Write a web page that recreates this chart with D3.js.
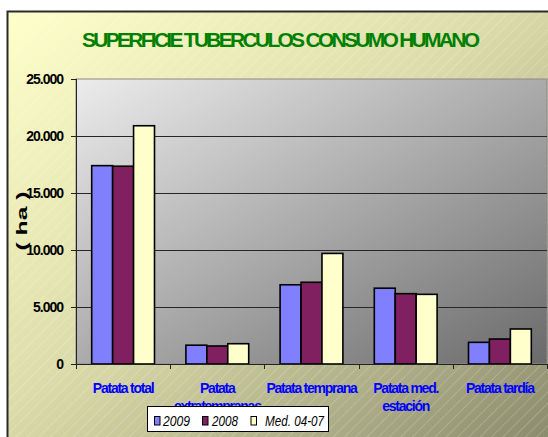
<!DOCTYPE html>
<html><head><meta charset="utf-8">
<script src="https://cdn.jsdelivr.net/npm/d3@7/dist/d3.min.js"></script>
<style>body{margin:0;background:#fff}svg{display:block}</style>
</head><body>
<script>
const categories = ["Patata total", "Patata extratempranas", "Patata temprana", "Patata med. estación", "Patata tardía"];
const seriesNames = ["2009", "2008", "Med. 04-07"];
const values2009 = [17400, 1650, 6950, 6650, 1900];
const values2008 = [17350, 1580, 7170, 6170, 2190];
const valuesMed = [20900, 1780, 9700, 6110, 3070];
const yTicks = [0, 5000, 10000, 15000, 20000, 25000];
const colors = ["#8080ff", "#802060", "#ffffcc"];
const title = "SUPERFICIE TUBERCULOS CONSUMO HUMANO";
const yTitle = "( ha )";

const W = 548, H = 437;
const svg = d3.select("body").append("svg").attr("width", W).attr("height", H);
const defs = svg.append("defs");

const g1 = defs.append("linearGradient").attr("id","bgGrad").attr("x1",0).attr("y1",0).attr("x2",1).attr("y2",1);
g1.append("stop").attr("offset","0%").attr("stop-color","#ffffca");
g1.append("stop").attr("offset","45%").attr("stop-color","#dcdcaa");
g1.append("stop").attr("offset","100%").attr("stop-color","#86866a");
const g2 = defs.append("linearGradient").attr("id","plotGrad").attr("x1",0).attr("y1",0).attr("x2",1).attr("y2",1);
g2.append("stop").attr("offset","0%").attr("stop-color","#ececec");
g2.append("stop").attr("offset","100%").attr("stop-color","#6a6a6a");
const pat = defs.append("pattern").attr("id","hatch").attr("width",8).attr("height",8)
  .attr("patternUnits","userSpaceOnUse").attr("patternTransform","rotate(45)");
pat.append("line").attr("x1",0).attr("y1",0).attr("x2",0).attr("y2",8)
  .attr("stroke","#ffffff").attr("stroke-width",0.8).attr("stroke-opacity",0.45);

// chart area
svg.append("rect").attr("x",7).attr("y",11).attr("width",W+10).attr("height",H+10).attr("fill","url(#bgGrad)");
svg.append("rect").attr("x",7).attr("y",11).attr("width",W+10).attr("height",H+10).attr("fill","url(#hatch)");
svg.append("path").attr("d",`M7.5,${H+5} V11.5 H${W+5}`).attr("fill","none").attr("stroke","#2a2a2a").attr("stroke-width",2);

const pLeft = 76, pRight = 547, pTop = 79, pBottom = 364;
const x0 = d3.scaleBand().domain(categories).range([pLeft, pRight]).padding(0);
const x1 = d3.scaleBand().domain(seriesNames).range([0, x0.bandwidth()]).paddingInner(0).paddingOuter(0.75);
const y = d3.scaleLinear().domain([0, 25000]).range([pBottom, pTop]);

svg.append("rect").attr("x",pLeft).attr("y",pTop).attr("width",pRight-pLeft).attr("height",pBottom-pTop)
  .attr("fill","url(#plotGrad)").attr("stroke","#8a8a8a").attr("stroke-width",1);

// gridlines
svg.append("g").selectAll("line").data(yTicks.filter(t => t > 0 && t < 25000)).join("line")
  .attr("x1",pLeft).attr("x2",pRight).attr("y1",d => Math.round(y(d))+0.5).attr("y2",d => Math.round(y(d))+0.5)
  .attr("stroke","#262626").attr("stroke-width",1);

// bars
const data = categories.map((c,i) => ({c, vals:[values2009[i], values2008[i], valuesMed[i]]}));
const grp = svg.append("g").selectAll("g").data(data).join("g").attr("transform", d => `translate(${x0(d.c)},0)`);
grp.selectAll("rect").data(d => d.vals.map((v,j) => ({s:seriesNames[j], v, j}))).join("rect")
  .attr("x", d => x1(d.s)).attr("width", x1.bandwidth())
  .attr("y", d => y(d.v)).attr("height", d => y(0) - y(d.v))
  .attr("fill", d => colors[d.j]).attr("stroke","#000").attr("stroke-width",1.6);

// y axis
const fmt = d3.formatLocale({decimal:",", thousands:".", grouping:[3], currency:["",""]}).format(",d");
const yAxis = d3.axisLeft(y).tickValues(yTicks).tickFormat(fmt).tickSize(5).tickPadding(8);
const ya = svg.append("g").attr("transform",`translate(${pLeft},0)`).call(yAxis);
ya.select(".domain").attr("stroke","#222").attr("d",`M0.5,${pTop}V${pBottom}`);
ya.selectAll(".tick line").attr("stroke","#222");
ya.selectAll(".tick text").attr("font-family","Liberation Sans, Arial, sans-serif").attr("font-size","14px")
  .attr("font-weight","bold").attr("fill","#000").attr("letter-spacing","-1px");

// x axis
const xa = svg.append("g").attr("transform",`translate(0,${pBottom})`);
xa.append("line").attr("x1",pLeft).attr("x2",pRight).attr("y1",0.5).attr("y2",0.5).attr("stroke","#222");
xa.selectAll("line.tk").data(categories.concat([null])).join("line").attr("class","tk")
  .attr("x1",(d,i) => Math.round(pLeft + i*x0.step())+0.5).attr("x2",(d,i) => Math.round(pLeft + i*x0.step())+0.5)
  .attr("y1",0).attr("y2",5).attr("stroke","#222");

const lbls = svg.append("g").selectAll("text").data(categories).join("text")
  .attr("x", d => x0(d) + x0.bandwidth()/2).attr("y", 393)
  .attr("text-anchor","middle").attr("font-family","Liberation Sans, Arial, sans-serif")
  .attr("font-size","14px").attr("font-weight","bold").attr("fill","#0000ff").attr("letter-spacing","-1.25px");
lbls.each(function(d){
  const t = d3.select(this); const words = d.split(" ");
  let line = [];
  let ts = t.append("tspan").attr("x", t.attr("x")).attr("dy",0);
  for (const w of words) {
    line.push(w); ts.text(line.join(" "));
    if (ts.node().getComputedTextLength() > x0.bandwidth() - 2 && line.length > 1) {
      line.pop(); ts.text(line.join(" ")); line = [w];
      ts = t.append("tspan").attr("x", t.attr("x")).attr("dy", 18).text(w);
    }
  }
});

// title
svg.append("text").attr("x",82).attr("y",47).attr("font-family","Liberation Sans, Arial, sans-serif")
  .attr("font-size","21px").attr("font-weight","bold").attr("fill","#008000")
  .attr("textLength",398).attr("lengthAdjust","spacing").text(title);

// y title
svg.append("text").attr("transform","translate(27,221) rotate(-90) scale(1.55,0.9)").attr("text-anchor","middle")
  .attr("font-family","Liberation Sans, Arial, sans-serif").attr("font-size","16px").attr("font-weight","bold")
  .attr("fill","#000").text(yTitle);

// legend
const lg = svg.append("g");
lg.append("rect").attr("x",147.5).attr("y",406.5).attr("width",181).attr("height",25).attr("fill","#fff").attr("stroke","#000");
const legendItems = [{sx:154, tx:163, tw:27}, {sx:202, tx:212, tw:26}, {sx:250.5, tx:265, tw:59}];
seriesNames.forEach((s,i) => {
  const it = legendItems[i];
  lg.append("rect").attr("x",it.sx+0.5).attr("y",416.5).attr("width",5.5).attr("height",8.5)
    .attr("fill",colors[i]).attr("stroke","#000");
  lg.append("text").attr("x",it.tx).attr("y",425.5).attr("font-family","Liberation Sans, Arial, sans-serif")
    .attr("font-size","14px").attr("font-style","italic").attr("fill","#000")
    .attr("textLength",it.tw).attr("lengthAdjust","spacingAndGlyphs").text(s);
});
</script>
</body></html>
